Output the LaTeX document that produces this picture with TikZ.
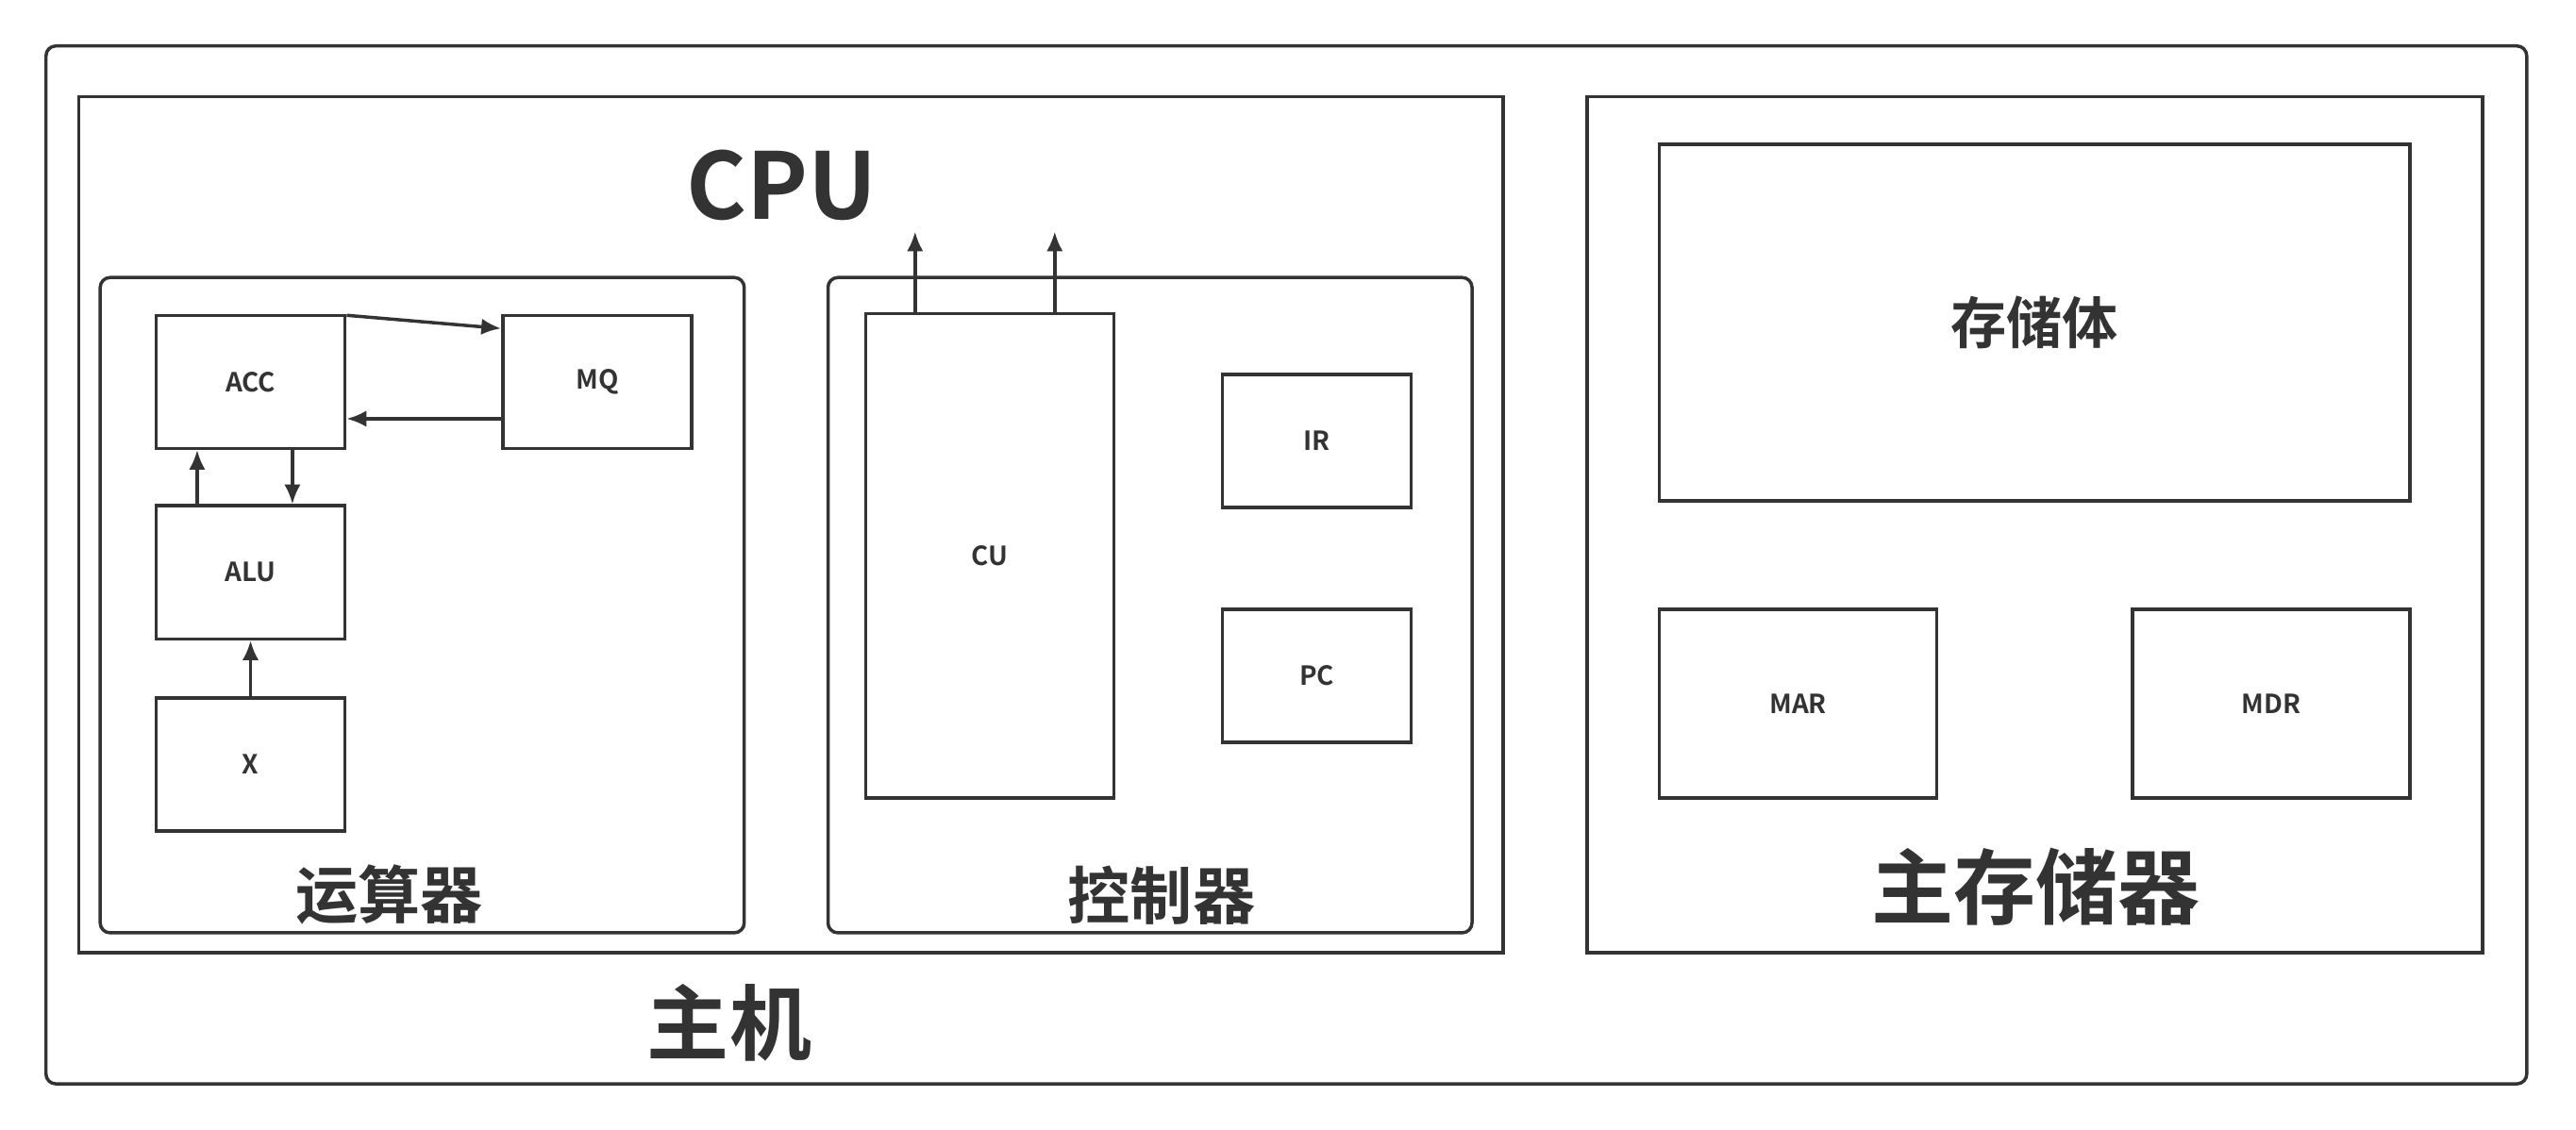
\documentclass[tikz,border=0pt]{standalone}
\usepackage{fontspec}
\setmainfont{Noto Sans CJK SC}[BoldFont={Noto Sans CJK SC Bold}]
\usetikzlibrary{arrows.meta}
\definecolor{ink}{HTML}{333333}
\begin{document}
\begin{tikzpicture}[x=0.5pt,y=-0.5pt,line width=1pt,draw=ink,
  box/.style={draw=ink,line width=1pt},
  lbl/.style={text=ink,font=\bfseries\fontsize{8}{9}\selectfont},
  arr/.style={draw=ink,line width=1pt,-{Latex[length=6pt,width=5pt]}}]
\useasboundingbox (0,0) rectangle (1568,688);
\draw[box,rounded corners=3pt] (28,28) rectangle (1538,660);
\draw[box] (48,59) rectangle (915,580);
\draw[box] (966,59) rectangle (1511,580);
\draw[box,rounded corners=3pt] (61,169) rectangle (453,568);
\draw[box,rounded corners=3pt] (504,169) rectangle (896,568);
\node[box,lbl,minimum width=57.5pt,minimum height=40.5pt] (acc) at (152.5,232.5) {ACC};
\node[box,lbl,minimum width=57.5pt,minimum height=40.5pt] (mq) at (363.5,232.5) {MQ};
\node[box,lbl,minimum width=57.5pt,minimum height=40.5pt] (alu) at (152.5,348.5) {ALU};
\node[box,lbl,minimum width=57.5pt,minimum height=40.5pt] (x) at (152.5,465.5) {X};
\node[box,lbl,minimum width=75.5pt,minimum height=147.5pt] (cu) at (602.5,338.5) {CU};
\node[box,lbl,minimum width=57.5pt,minimum height=40.5pt] (ir) at (801.5,268.5) {IR};
\node[box,lbl,minimum width=57.5pt,minimum height=40.5pt] (pc) at (801.5,411.5) {PC};
\node[box,minimum width=228.5pt,minimum height=108.5pt,text=ink,font=\bfseries\fontsize{17}{20}\selectfont] (mem) at (1238.5,196.5) {存储体};
\node[box,lbl,minimum width=84.5pt,minimum height=57.5pt] (mar) at (1094.5,428.5) {MAR};
\node[box,lbl,minimum width=84.5pt,minimum height=57.5pt] (mdr) at (1382.5,428.5) {MDR};
\draw[arr] ([yshift=4pt]acc.east|-0,200) -- (mq.west|-0,200);
\draw[arr] (mq.west|-0,255) -- (acc.east|-0,255);
\draw[arr] (alu.north-|120,0) -- (acc.south-|120,0);
\draw[arr] (acc.south-|178,0) -- (alu.north-|178,0);
\draw[arr] (x) -- (alu);
\coordinate (u1) at (557,141);
\coordinate (u2) at (642,141);
\draw[arr] (cu.north-|u1) -- (u1);
\draw[arr] (cu.north-|u2) -- (u2);
\node[text=ink,font=\bfseries\fontsize{28}{32}\selectfont] (cpu) at (476,113) {CPU};
\node[text=ink,font=\bfseries\fontsize{19}{22}\selectfont] (ys) at (237,545) {运算器};
\node[text=ink,font=\bfseries\fontsize{19}{22}\selectfont] (kz) at (707,545) {控制器};
\node[text=ink,font=\bfseries\fontsize{25}{28}\selectfont] (zc) at (1239,540) {主存储器};
\node[text=ink,font=\bfseries\fontsize{25}{28}\selectfont] (zj) at (444,623) {主机};
\end{tikzpicture}
\end{document}
